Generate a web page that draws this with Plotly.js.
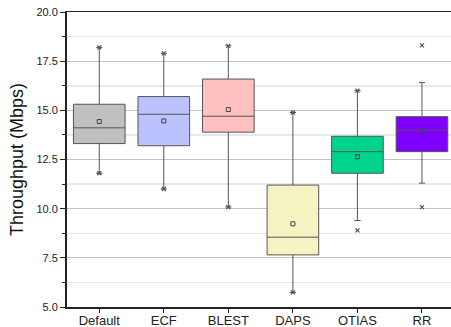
<!DOCTYPE html>
<html>
<head>
<meta charset="utf-8">
<script src="https://cdn.plot.ly/plotly-3.0.1.min.js"></script>
<style>html,body{margin:0;padding:0;background:#fff;}#chart{width:451px;height:327px;}</style>
</head>
<body>
<div id="chart"></div>
<script>
var categories = ["Default", "ECF", "BLEST", "DAPS", "OTIAS", "RR"];
var q1Vals     = [13.31, 13.2, 13.89, 7.65, 11.8, 12.9];
var medianVals = [14.11, 14.8, 14.7, 8.55, 12.9, 13.99];
var q3Vals     = [15.31, 15.7, 16.59, 11.2, 13.68, 14.68];
var lowerWhisk = [11.8, 11.0, 10.08, 5.74, 9.4, 11.3];
var upperWhisk = [18.2, 17.9, 18.28, 14.89, 16.0, 16.41];
var meanVals   = [14.43, 14.46, 15.04, 9.23, 12.64, 13.92];
var minVals    = [11.8, 11.0, 10.08, 5.74, 8.9, 10.08];
var maxVals    = [18.2, 17.9, 18.28, 14.89, 16.0, 18.3];
var boxColors  = ["#c0c0c0", "#bcc2ff", "#ffc0c0", "#f6f3c2", "#00d38b", "#8000ff"];

var traces = [];
for (var i = 0; i < categories.length; i++) {
  traces.push({
    type: "box",
    x: [categories[i]],
    q1: [q1Vals[i]], median: [medianVals[i]], q3: [q3Vals[i]],
    lowerfence: [lowerWhisk[i]], upperfence: [upperWhisk[i]],
    fillcolor: boxColors[i],
    line: {color: "#555555", width: 1},
    width: 0.8,
    whiskerwidth: 0.12,
    boxpoints: false,
    hoverinfo: "skip",
    showlegend: false
  });
}
traces.push({
  type: "scatter", mode: "markers", x: categories, y: meanVals,
  marker: {symbol: "square-open", size: 4, color: "#404040", line: {width: 1}},
  hoverinfo: "skip", showlegend: false
});
traces.push({
  type: "scatter", mode: "markers", x: categories, y: minVals,
  marker: {symbol: "x-thin-open", size: 4, color: "#505050", line: {width: 1.2, color: "#505050"}},
  hoverinfo: "skip", showlegend: false
});
traces.push({
  type: "scatter", mode: "markers", x: categories, y: maxVals,
  marker: {symbol: "x-thin-open", size: 4, color: "#505050", line: {width: 1.2, color: "#505050"}},
  hoverinfo: "skip", showlegend: false
});

var layout = {
  width: 451, height: 327,
  margin: {l: 67, r: 0, t: 12, b: 20, pad: 0},
  paper_bgcolor: "#fff", plot_bgcolor: "#fff",
  font: {family: "Arial, Liberation Sans, sans-serif", color: "#222"},
  showlegend: false,
  xaxis: {
    type: "category", categoryorder: "array", categoryarray: categories,
    range: [-0.5, 5.45],
    showline: true, linecolor: "#222", linewidth: 1.5, mirror: true,
    ticks: "outside", ticklen: 4, tickcolor: "#222",
    ticklabelstandoff: -3,
    showgrid: false, zeroline: false,
    tickfont: {size: 13, color: "#222"}
  },
  yaxis: {
    range: [5, 20], dtick: 2.5, tick0: 5, tickformat: ".1f",
    showline: true, linecolor: "#222", linewidth: 2,
    ticks: "outside", ticklen: 5, tickcolor: "#222",
    showgrid: true, gridcolor: "#c4c4c4", gridwidth: 1,
    zeroline: false,
    tickfont: {size: 11, color: "#222"},
    title: {text: "Throughput (Mbps)", font: {size: 18, color: "#111"}, standoff: 8},
    minor: {dtick: 1.25, tick0: 5, showgrid: true, gridcolor: "#e8e8e8", gridwidth: 1.5, ticks: "outside", ticklen: 3, tickcolor: "#222"}
  }
};
Plotly.newPlot("chart", traces, layout, {displayModeBar: false, staticPlot: true});
</script>
</body>
</html>
